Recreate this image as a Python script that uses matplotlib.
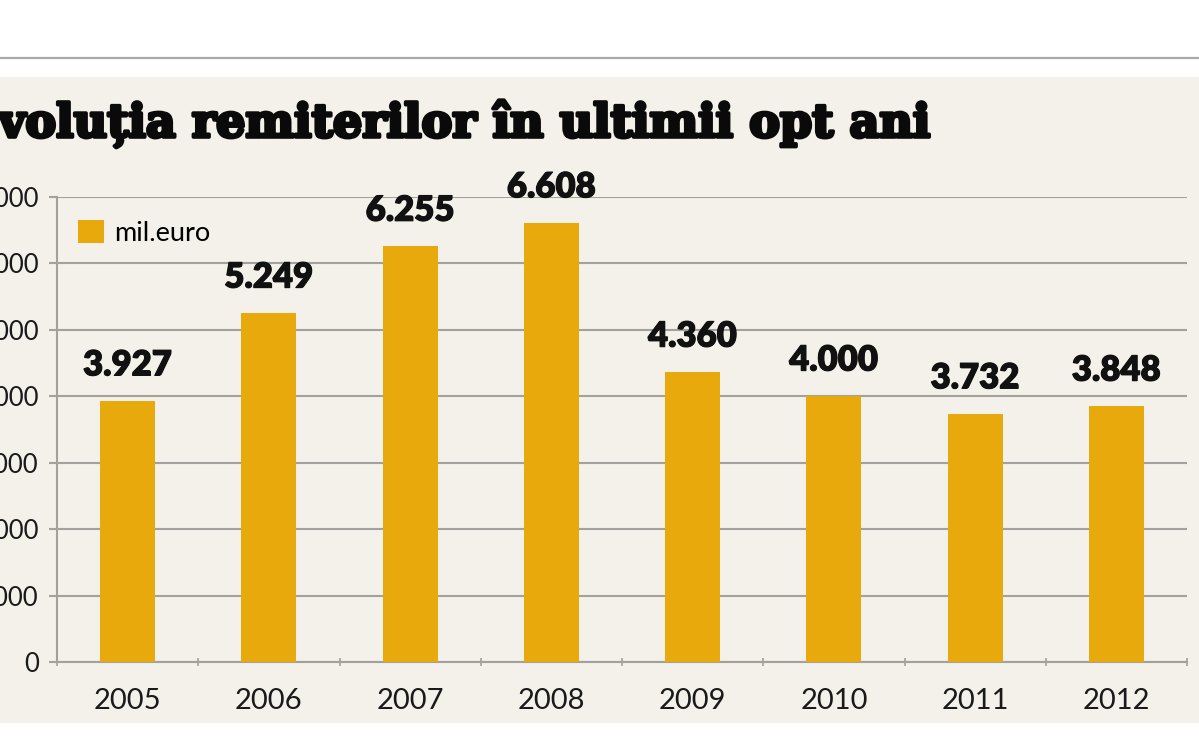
import matplotlib

matplotlib.use("Agg")
import matplotlib.pyplot as plt  # noqa: E402
import matplotlib.patheffects as pe  # noqa: E402
from matplotlib.patches import Rectangle  # noqa: E402
from matplotlib.lines import Line2D  # noqa: E402

years = ["2005", "2006", "2007", "2008", "2009", "2010", "2011", "2012"]
values = [3927, 5249, 6255, 6608, 4360, 4000, 3732, 3848]
value_labels = ["3.927", "5.249", "6.255", "6.608", "4.360", "4.000", "3.732", "3.848"]
y_ticks = [0, 1000, 2000, 3000, 4000, 5000, 6000, 7000]
title = "Evoluția remiterilor în ultimii opt ani"
legend_label = "mil.euro"

W, H = 1199, 750
BAR = "#E8A90D"
BG = "#F4F1EA"
GRID = "#A2A19E"

fig = plt.figure(figsize=(W / 100, H / 100), dpi=100)
fig.patch.set_facecolor("white")

# beige panel and top rule
fig.add_artist(Rectangle((0, 1 - 723 / H), 1, (723 - 77) / H, transform=fig.transFigure,
                         facecolor=BG, edgecolor="none", zorder=0))
fig.add_artist(Line2D([0, 1], [1 - 58 / H, 1 - 58 / H], transform=fig.transFigure,
                      color="#A8A8A8", linewidth=1.6))

ax = fig.add_axes([57 / W, 1 - 662 / H, (1187 - 57) / W, (662 - 197) / H])
ax.set_facecolor("none")

x = range(len(years))
ax.bar(x, values, width=0.39, color=BAR, zorder=3)
ax.set_xlim(-0.5, len(years) - 0.5)
ax.set_ylim(0, 7000)

ax.set_yticks(y_ticks)
ax.set_yticklabels([str(v) for v in y_ticks], fontsize=18.5, family="Lato", color="#1a1a1a")
ax.yaxis.grid(True, color=GRID, linewidth=1.5, zorder=1)
ax.tick_params(axis="y", length=6, width=1.5, color=GRID, pad=7)

ax.set_xticks(list(x))
ax.set_xticklabels(years, fontsize=21, family="Lato", color="#1a1a1a")
ax.set_xticks([i - 0.5 for i in range(len(years) + 1)], minor=True)
ax.tick_params(axis="x", which="major", length=0, pad=19)
ax.tick_params(axis="x", which="minor", length=6, width=1.2, color=GRID, direction="inout")

for side in ("top", "right"):
    ax.spines[side].set_visible(False)
for side in ("left", "bottom"):
    ax.spines[side].set_color(GRID)
    ax.spines[side].set_linewidth(1.5)

for i, (v, lab) in enumerate(zip(values, value_labels)):
    ax.annotate(lab, (i, v), xytext=(0, 18.5), textcoords="offset points",
                ha="center", va="baseline", fontsize=25, fontweight="heavy",
                family="Lato", color="#111111",
                path_effects=[pe.withStroke(linewidth=0.8, foreground="#111111")])

ax.bar([0], [0], color=BAR, label=legend_label)
ax.legend(loc="upper left", bbox_to_anchor=((78 - 57) / 1130, 1 - 23 / 465),
          frameon=False, borderpad=0, borderaxespad=0, handlelength=0.95,
          handleheight=0.95, handletextpad=0.4,
          prop={"family": "Lato", "size": 19.5})

# title: size so that the part after the cut-off "E" spans the left edge to x=933
t = fig.text(0, 1 - 137 / H, title[1:], fontsize=30, fontweight="bold",
             family="DejaVu Serif", color="#0a0a0a", va="baseline", ha="left",
             path_effects=[pe.withStroke(linewidth=2.6, foreground="#0a0a0a")])
fig.canvas.draw()
w = t.get_window_extent().width
t.set_fontsize(30 * 930 / w)
t.set_text(title)
t.set_horizontalalignment("right")
t.set_x(931 / W)

fig.savefig("out.png", dpi=100, facecolor="white")
plt.close(fig)
